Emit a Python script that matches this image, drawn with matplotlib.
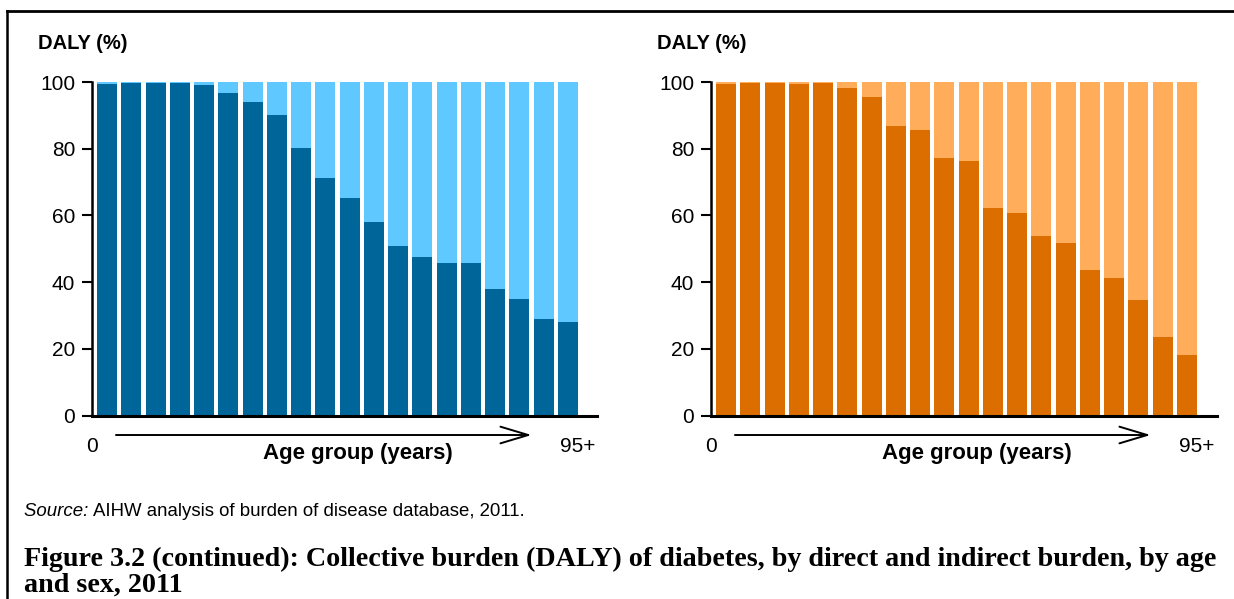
import matplotlib
matplotlib.use("Agg")
import matplotlib.pyplot as plt
from matplotlib.lines import Line2D
import numpy as np

# ---------------- data ----------------
age_groups = ["0–4", "5–9", "10–14", "15–19", "20–24", "25–29", "30–34", "35–39",
              "40–44", "45–49", "50–54", "55–59", "60–64", "65–69", "70–74",
              "75–79", "80–84", "85–89", "90–94", "95+"]

males_direct = [99.3, 99.6, 99.6, 99.6, 99.0, 96.6, 93.9, 90.0, 80.1, 71.2,
                65.2, 58.0, 50.8, 47.5, 45.7, 45.7, 37.9, 34.9, 28.9, 28.0]
males_indirect = [0.7, 0.4, 0.4, 0.4, 1.0, 3.4, 6.1, 10.0, 19.9, 28.8,
                  34.8, 42.0, 49.2, 52.5, 54.3, 54.3, 62.1, 65.1, 71.1, 72.0]

females_direct = [99.3, 99.6, 99.6, 99.3, 99.6, 98.1, 95.4, 86.7, 85.5, 77.1,
                  76.2, 62.2, 60.7, 53.8, 51.7, 43.6, 41.2, 34.6, 23.6, 18.2]
females_indirect = [0.7, 0.4, 0.4, 0.7, 0.4, 1.9, 4.6, 13.3, 14.5, 22.9,
                    23.8, 37.8, 39.3, 46.2, 48.3, 56.4, 58.8, 65.4, 76.4, 81.8]

y_ticks = [0, 20, 40, 60, 80, 100]
y_label = "DALY (%)"
x_label = "Age group (years)"
x_start_label = "0"
x_end_label = "95+"
source_italic = "Source:"
source_text = "AIHW analysis of burden of disease database, 2011."
caption_1 = "Figure 3.2 (continued): Collective burden (DALY) of diabetes, by direct and indirect burden, by age"
caption_2 = "and sex, 2011"

# ---------------- style ----------------
blue_dark, blue_light = "#00669a", "#5fc8ff"
orange_dark, orange_light = "#dc6e00", "#ffad5a"
plt.rcParams["font.family"] = ["Liberation Sans", "DejaVu Sans"]

W, H = 1234, 599
fig = plt.figure(figsize=(W / 100, H / 100), dpi=100)


def px_rect(x0, x1, ytop, ybot):
    return [x0 / W, 1 - ybot / H, (x1 - x0) / W, (ybot - ytop) / H]


def panel(rect, xmax, direct, indirect, c_dark, c_light):
    ax = fig.add_axes(rect)
    x = np.arange(len(age_groups))
    ax.bar(x, direct, width=0.824, color=c_dark, linewidth=0)
    ax.bar(x, indirect, bottom=direct, width=0.824, color=c_light, linewidth=0)
    ax.set_xlim(-0.618, xmax)
    ax.set_ylim(0, 100)
    for s in ("top", "right"):
        ax.spines[s].set_visible(False)
    ax.spines["left"].set_linewidth(1.8)
    ax.spines["bottom"].set_linewidth(2.2)
    ax.set_xticks([])
    ax.set_yticks(y_ticks)
    ax.tick_params(axis="y", length=7.5, width=1.5, pad=4.5, labelsize=15)
    ax.text(-0.618, -9.3, x_start_label, ha="center", va="center", fontsize=15, clip_on=False)
    ax.text(19.41, -9.3, x_end_label, ha="center", va="center", fontsize=15, clip_on=False)
    ax.annotate("", xy=(17.5, -5.85), xytext=(0.37, -5.85),
                arrowprops=dict(arrowstyle="->,head_length=2.0,head_width=0.6",
                                lw=1.4, color="black", shrinkA=0, shrinkB=0),
                annotation_clip=False)
    ax.text(10.35, -11.25, x_label, ha="center", va="center", fontsize=16,
            fontweight="bold", clip_on=False)
    return ax


panel(px_rect(92, 597, 82, 415.5), 20.195, males_direct, males_indirect, blue_dark, blue_light)
panel(px_rect(711, 1217, 82, 415.5), 20.237, females_direct, females_indirect, orange_dark, orange_light)

fig.text(38 / W, 1 - 43.5 / H, y_label, ha="left", va="center", fontsize=14.5, fontweight="bold")
fig.text(657 / W, 1 - 43.5 / H, y_label, ha="left", va="center", fontsize=14.5, fontweight="bold")

# border (left and top only)
fig.add_artist(Line2D([7 / W, 7 / W], [0, 1 - 10.5 / H], transform=fig.transFigure, lw=1.8, color="black"))
fig.add_artist(Line2D([7 / W, 1], [1 - 10.5 / H, 1 - 10.5 / H], transform=fig.transFigure, lw=2.0, color="black"))

renderer = fig.canvas.get_renderer()

# source
s1 = fig.text(24 / W, 1 - 516.5 / H, source_italic + " ", fontsize=13.4, style="italic", va="baseline")
s1_end = s1.get_window_extent(renderer).x1
fig.text(s1_end / W, 1 - 516.5 / H, source_text, fontsize=13.4, va="baseline")

# caption, fitted to width
cap_font = ["Liberation Serif", "DejaVu Serif"]
t1 = fig.text(24 / W, 1 - 566 / H, caption_1, fontsize=19, fontweight="bold", family=cap_font, va="baseline")
t2 = fig.text(24 / W, 1 - 592 / H, caption_2, fontsize=19, fontweight="bold", family=cap_font, va="baseline")
wpx = t1.get_window_extent(renderer).width
fs = 19 * 1195 / wpx
t1.set_fontsize(fs)
t2.set_fontsize(fs)

fig.savefig("out.png", dpi=100)
